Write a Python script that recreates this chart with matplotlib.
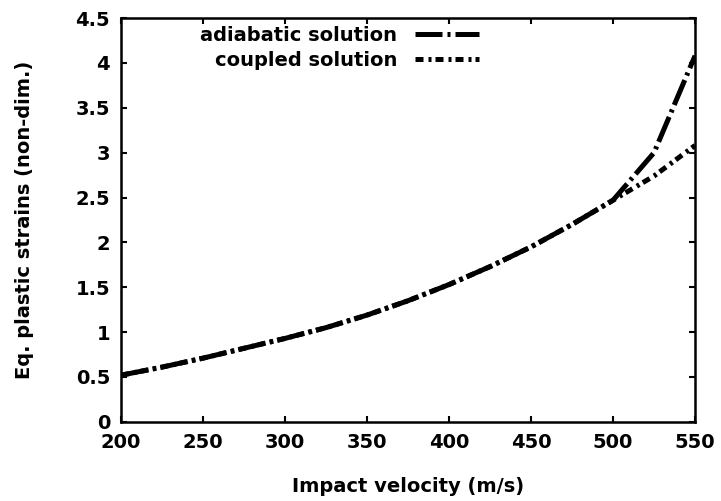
import matplotlib
matplotlib.use("Agg")
import matplotlib.pyplot as plt

# Impact velocity (m/s) and equivalent plastic strains
velocity = [200, 225, 250, 275, 300, 325, 350, 375, 400, 425, 450, 475, 500, 525, 550]
adiabatic = [0.52, 0.61, 0.71, 0.82, 0.93, 1.05, 1.19, 1.35, 1.53, 1.73, 1.95, 2.20, 2.47, 3.00, 4.08]
coupled = [0.52, 0.61, 0.71, 0.82, 0.93, 1.05, 1.19, 1.35, 1.53, 1.73, 1.95, 2.20, 2.47, 2.74, 3.08]

x_ticks = [200, 250, 300, 350, 400, 450, 500, 550]
y_ticks = [0, 0.5, 1, 1.5, 2, 2.5, 3, 3.5, 4, 4.5]
y_tick_labels = ["0", "0.5", "1", "1.5", "2", "2.5", "3", "3.5", "4", "4.5"]

plt.rcParams["font.family"] = ["DejaVu Sans"]
plt.rcParams["font.weight"] = "bold"
plt.rcParams["axes.labelweight"] = "bold"
plt.rcParams["font.size"] = 14

fig = plt.figure(figsize=(7.21, 5.01), dpi=100)
ax = fig.add_axes([0.168, 0.158, 0.796, 0.806])

# dash patterns chosen so the coupled gaps fall inside the adiabatic gaps
lw = 3.6
ax.plot(velocity, adiabatic, color="black", lw=lw, dashes=(5.4, 1.0, 0.6, 1.0),
        dash_capstyle="butt", label="adiabatic solution")
ax.plot(velocity, coupled, color="black", lw=lw, dashes=(1.6, 1.0, 0.6, 0.8),
        dash_capstyle="butt", label="coupled solution")

ax.set_xlim(200, 550)
ax.set_ylim(0, 4.5)
ax.set_xticks(x_ticks)
ax.set_yticks(y_ticks)
ax.set_yticklabels(y_tick_labels)

ax.tick_params(direction="in", length=4, width=1.5, top=True, right=True, pad=8)
for s in ax.spines.values():
    s.set_linewidth(1.8)

ax.set_xlabel("Impact velocity (m/s)", labelpad=18)
ax.set_ylabel("Eq. plastic strains (non-dim.)", labelpad=30)

ax.legend(loc="upper right", bbox_to_anchor=(0.63, 0.99), frameon=False,
          markerfirst=False, handlelength=3.3, handletextpad=0.9,
          labelspacing=0.3, borderpad=0.2, borderaxespad=0)

plt.savefig("out.png", dpi=100)
